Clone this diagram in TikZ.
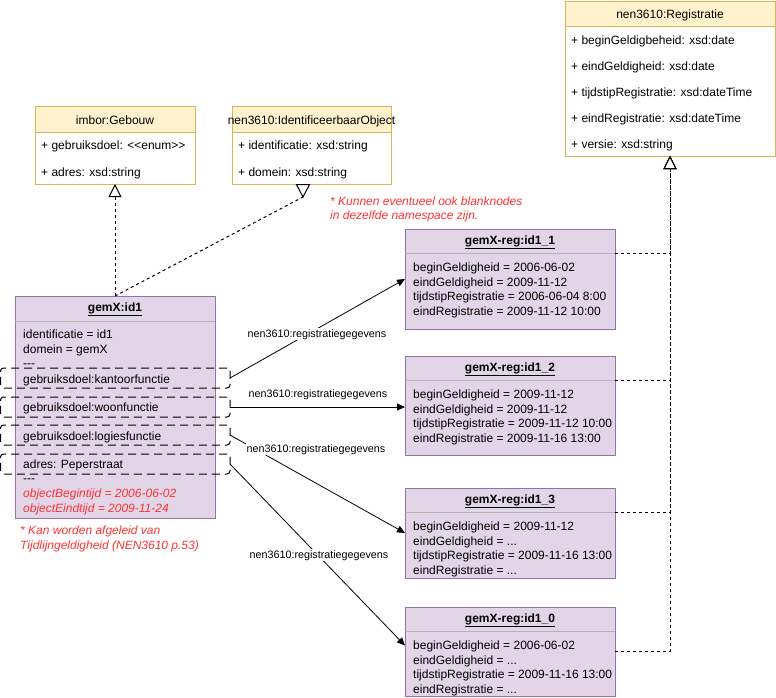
\documentclass[tikz,border=0pt]{standalone}
\usepackage{fontspec}
\setmainfont{Liberation Sans}[Ligatures=TeXOff]
\usetikzlibrary{arrows.meta,calc}
\definecolor{yfill}{HTML}{FFF2CC}
\definecolor{yline}{HTML}{D6B656}
\definecolor{pfill}{HTML}{E1D5E7}
\definecolor{pline}{HTML}{9673A6}
\definecolor{sepgray}{HTML}{B3B3B3}
\definecolor{notered}{HTML}{FF3333}
\begin{document}
\begin{tikzpicture}[x=1pt,y=-1pt,
  font=\fontsize{12}{14}\selectfont,
  box/.style={rectangle, inner sep=0pt, outer sep=0pt, anchor=north west, line width=1pt},
  ybox/.style={box, draw=yline, fill=white},
  yhead/.style={box, draw=yline, fill=yfill},
  pbox/.style={box, draw=pline, fill=pfill},
  txt/.style={anchor=base west, inner sep=0pt},
  ttl/.style={anchor=base, inner sep=0pt},
  notetxt/.style={txt, text=notered, font=\fontsize{12}{14}\selectfont\itshape},
  bracket/.style={box, draw=black, rounded corners=3pt, dash pattern=on 8pt off 5pt, line width=1pt},
  sepline/.style={draw=sepgray, line width=1pt},
  rel/.style={draw, line width=0.8pt, -{Triangle[length=8pt,width=7pt]}},
  inh/.style={draw, line width=1pt, dash pattern=on 3pt off 3pt, -{Triangle[open,length=13pt,width=13pt,fill=white]}},
  inhline/.style={draw, line width=1pt, dash pattern=on 3pt off 3pt},
  lbl/.style={anchor=base, fill=white, inner sep=1pt, font=\fontsize{10.75}{13}\selectfont}
]
\useasboundingbox (0,0) rectangle (776,697);

% ---------- imbor:Gebouw
\node[ybox, minimum width=160pt, minimum height=78pt] (geb) at (35,106) {};
\node[yhead, minimum width=160pt, minimum height=26pt] (gebh) at (35,106) {};
\node[ttl] (gebt) at (115,124) {imbor:Gebouw};
\node[txt] (geba1) at (41,149) {+ gebruiksdoel: <<enum>>};
\node[txt] (geba2) at (41,176) {+ adres: xsd:string};

% ---------- nen3610:IdentificeerbaarObject
\node[ybox, minimum width=159pt, minimum height=78pt] (ido) at (232,106) {};
\node[yhead, minimum width=159pt, minimum height=26pt] (idoh) at (232,106) {};
\node[ttl] (idot) at (311.5,124) {nen3610:IdentificeerbaarObject};
\node[txt] (idoa1) at (238,149) {+ identificatie: xsd:string};
\node[txt] (idoa2) at (238,176) {+ domein: xsd:string};

% ---------- nen3610:Registratie
\node[ybox, minimum width=210pt, minimum height=155pt] (reg) at (565,1) {};
\node[yhead, minimum width=210pt, minimum height=25pt] (regh) at (565,1) {};
\node[ttl] (regt) at (670,18) {nen3610:Registratie};
\node[txt] (rega1) at (571,44) {+ beginGeldigbeheid: xsd:date};
\node[txt] (rega2) at (571,70) {+ eindGeldigheid: xsd:date};
\node[txt] (rega3) at (571,96) {+ tijdstipRegistratie: xsd:dateTime};
\node[txt] (rega4) at (571,122) {+ eindRegistratie: xsd:dateTime};
\node[txt] (rega5) at (571,148) {+ versie: xsd:string};

% ---------- gemX:id1
\node[pbox, minimum width=200pt, minimum height=222pt] (gem) at (15,296) {};
\draw[sepline] ($(gem.north west)+(0,25)$) -- ($(gem.north east)+(0,25)$);
\node[ttl] (gemt) at (115,311) {\underline{\textbf{gemX:id1}}};
\node[txt] (g1) at (23,338) {identificatie = id1};
\node[txt] (g2) at (23,353) {domein = gemX};
\node[txt] (g3) at (23,367) {---};
\node[txt] (g4) at (23,383) {gebruiksdoel:kantoorfunctie};
\node[txt] (g5) at (23,411) {gebruiksdoel:woonfunctie};
\node[txt] (g6) at (23,440) {gebruiksdoel:logiesfunctie};
\node[txt] (g7) at (23,468) {adres: Peperstraat};
\node[txt] (g8) at (23,482) {---};
\node[notetxt] (g9) at (23,497) {objectBegintijd = 2006-06-02};
\node[notetxt] (g10) at (23,512) {objectEindtijd = 2009-11-24};

% dashed groups
\node[bracket, minimum width=229.5pt, minimum height=20pt] (k1) at (0.5,368) {};
\node[bracket, minimum width=229.5pt, minimum height=20pt] (k2) at (0.5,397) {};
\node[bracket, minimum width=229.5pt, minimum height=20pt] (k3) at (0.5,425) {};
\node[bracket, minimum width=229.5pt, minimum height=20pt] (k4) at (0.5,454) {};

% ---------- registration objects
\node[pbox, minimum width=210pt, minimum height=100pt] (r1) at (405,229) {};
\draw[sepline] ($(r1.north west)+(0,24)$) -- ($(r1.north east)+(0,24)$);
\node[ttl] (r1t) at (510,244) {\underline{\textbf{gemX-reg:id1\_1}}};
\node[txt] (r1a) at (413,271) {beginGeldigheid = 2006-06-02};
\node[txt] (r1b) at (413,286) {eindGeldigheid = 2009-11-12};
\node[txt] (r1c) at (413,300) {tijdstipRegistratie = 2006-06-04 8:00};
\node[txt] (r1d) at (413,315) {eindRegistratie = 2009-11-12 10:00};

\node[pbox, minimum width=210pt, minimum height=99pt] (r2) at (405,356) {};
\draw[sepline] ($(r2.north west)+(0,24)$) -- ($(r2.north east)+(0,24)$);
\node[ttl] (r2t) at (510,371) {\underline{\textbf{gemX-reg:id1\_2}}};
\node[txt] (r2a) at (413,398) {beginGeldigheid = 2009-11-12};
\node[txt] (r2b) at (413,413) {eindGeldigheid = 2009-11-12};
\node[txt] (r2c) at (413,427) {tijdstipRegistratie = 2009-11-12 10:00};
\node[txt] (r2d) at (413,442) {eindRegistratie = 2009-11-16 13:00};

\node[pbox, minimum width=210pt, minimum height=90pt] (r3) at (405,488) {};
\draw[sepline] ($(r3.north west)+(0,24)$) -- ($(r3.north east)+(0,24)$);
\node[ttl] (r3t) at (510,503) {\underline{\textbf{gemX-reg:id1\_3}}};
\node[txt] (r3a) at (413,530) {beginGeldigheid = 2009-11-12};
\node[txt] (r3b) at (413,545) {eindGeldigheid = ...};
\node[txt] (r3c) at (413,559) {tijdstipRegistratie = 2009-11-16 13:00};
\node[txt] (r3d) at (413,574) {eindRegistratie = ...};

\node[pbox, minimum width=210pt, minimum height=89pt] (r4) at (405,607) {};
\draw[sepline] ($(r4.north west)+(0,24)$) -- ($(r4.north east)+(0,24)$);
\node[ttl] (r4t) at (510,622) {\underline{\textbf{gemX-reg:id1\_0}}};
\node[txt] (r4a) at (413,649) {beginGeldigheid = 2006-06-02};
\node[txt] (r4b) at (413,664) {eindGeldigheid = ...};
\node[txt] (r4c) at (413,678) {tijdstipRegistratie = 2009-11-16 13:00};
\node[txt] (r4d) at (413,693) {eindRegistratie = ...};

% ---------- notes
\node[notetxt] (n1) at (330,205) {* Kunnen eventueel ook blanknodes};
\node[notetxt] (n2) at (330,219) {in dezelfde namespace zijn.};
\node[notetxt] (n3) at (20,534) {* Kan worden afgeleid van};
\node[notetxt] (n4) at (20,549) {Tijdlijngeldigheid (NEN3610 p.53)};

% ---------- inheritance
\draw[inh] (gem.north) -- (geb.south);
\coordinate (idotip) at ($(ido.south)+(-8.5,13)$);
\draw[inhline] (gem.north) -- (idotip);
\draw[line width=1pt, fill=white] ($(ido.south)+(-15,0.5)$) -- ($(ido.south)+(-2,0.5)$) -- (idotip) -- cycle;

\draw[inh] ($(r1.north east)+(0,24)$) -| (reg.south);
\draw[inh] ($(r2.north east)+(0,24)$) -| (reg.south);
\draw[inh] ($(r3.north east)+(0,24)$) -| (reg.south);
\draw[inh] ($(r4.north east)+(0,44)$) -| (reg.south);

% ---------- registratiegegevens
\draw[rel] (k1.east) -- (r1.west);
\draw[rel] (k2.east) -- (k2.east -| r2.west);
\draw[rel] (k3.east) -- (r3.west);
\draw[rel] (k4.east) -- ($(r4.west)+(0,-6)$);

\node[lbl] (l1) at (317,337) {nen3610:registratiegegevens};
\node[lbl] (l2) at (318,397) {nen3610:registratiegegevens};
\node[lbl] (l3) at (316,452) {nen3610:registratiegegevens};
\node[lbl] (l4) at (319,558) {nen3610:registratiegegevens};
\end{tikzpicture}
\end{document}
